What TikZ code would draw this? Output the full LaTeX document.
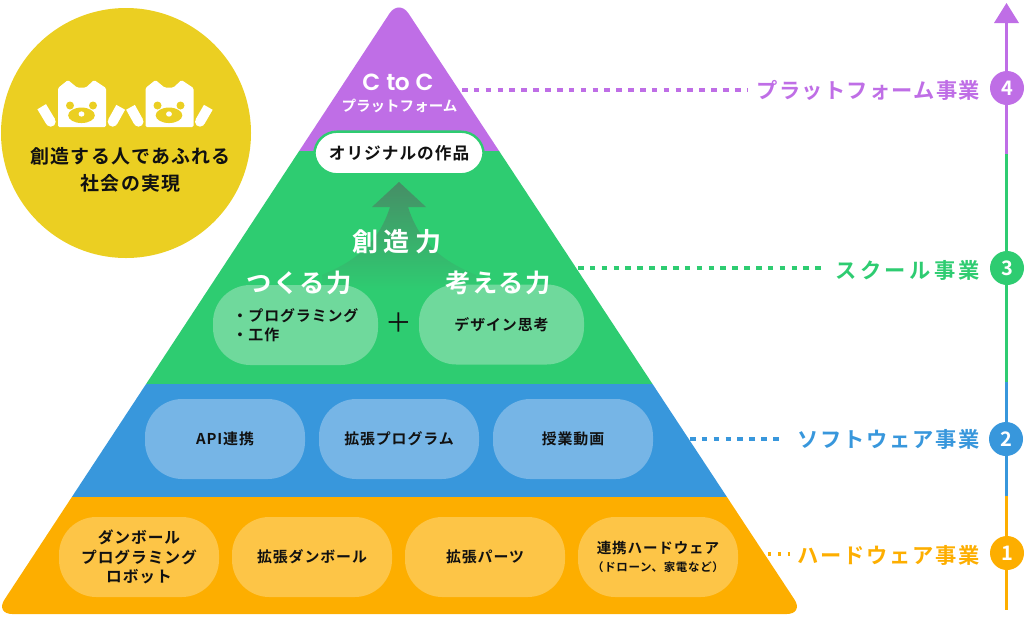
\documentclass[tikz,border=0pt]{standalone}
\usepackage{fontspec}
\usetikzlibrary{shadings}
\setmainfont{Noto Sans CJK JP}
\newfontfamily\jpb[LetterSpace=6]{Noto Sans CJK JP Bold}
\newfontfamily\jpm{Noto Sans CJK JP}
\newfontfamily\latn{Poppins SemiBold}
\definecolor{cpur}{HTML}{BF6EE6}
\definecolor{cgrn}{HTML}{2ECC71}
\definecolor{cblu}{HTML}{3897DC}
\definecolor{corg}{HTML}{FDAE00}
\definecolor{cyel}{HTML}{EBCF22}
\definecolor{cgrnp}{HTML}{6FD99C}
\definecolor{cblup}{HTML}{76B5E6}
\definecolor{corgp}{HTML}{FDC547}
\definecolor{carrow}{HTML}{468E66}
\definecolor{ink}{HTML}{111111}
\tikzset{
  pill/.style={rectangle,rounded corners=28pt,inner sep=0pt,minimum height=60pt,text=ink,align=center,
    font=\jpb\fontsize{11.2}{14.4}\selectfont},
  gpill/.style={pill,fill=cgrnp,minimum width=123.75pt},
  bpill/.style={pill,fill=cblup,minimum width=120pt},
  opill/.style={pill,fill=corgp,minimum width=120pt},
  biz/.style={anchor=east,inner sep=0pt,font=\jpb\fontsize{15.95}{18}\selectfont},
  num/.style={circle,minimum size=25.5pt,inner sep=0pt,text=white,font=\jpb\fontsize{15}{16}\selectfont},
  dashline/.style={line width=2.3pt,dash pattern=on 4.2pt off 4.7pt},
  axisline/.style={line width=2.2pt},
  power/.style={text=white,inner sep=0pt,font=\jpb\fontsize{19}{22}\selectfont},
  armline/.style={white,line width=7.5pt}
}
\begin{document}
\begin{tikzpicture}[x=0.75pt,y=-0.75pt]
\useasboundingbox (0,0) rectangle (1031,622);
% pyramid
\begin{scope}
\clip[rounded corners=13pt] (399,-1) -- (804,614) -- (-5,614) -- cycle;
\fill[cpur] (-10,-5) rectangle (810,151);
\fill[cgrn] (-10,151) rectangle (810,383.5);
\fill[cblu] (-10,383.5) rectangle (810,497);
\fill[corg] (-10,497) rectangle (810,620);
\end{scope}
% rising arrow
\shade[top color=carrow,bottom color=cgrn,shading angle=0]
 (399,182) -- (426,207) -- (408,207) .. controls (420,245) and (445,262) .. (476,275)
 -- (476,290) -- (322,290) -- (322,275) .. controls (353,262) and (378,245) .. (390,207) -- (372,207) -- cycle;
% top box
\node[rectangle,rounded corners=17pt,draw=cgrn,line width=1.8pt,fill=white,minimum width=127pt,minimum height=32pt,inner sep=0pt,text=ink,
  font=\jpb\fontsize{12.5}{14}\selectfont] (works) at (399,153) {\raisebox{-1.5pt}{オリジナルの作品}};
\node[text=white,inner sep=0pt,font=\latn\fontsize{17.5}{22}\selectfont] (ctoc) at (398,82) {C\hspace{4.5pt}\addfontfeature{LetterSpace=-3}to\hspace{4.5pt}C};
\node[text=white,inner sep=0pt,font=\jpb\fontsize{10.9}{14}\selectfont] (cplat) at (399.5,106) {\addfontfeature{LetterSpace=0}プラットフォーム};
% green pills
\node[gpill,align=left] (p1) at (295.5,325) {・プログラミング\\・工作};
\node[gpill] (p2) at (501.5,324.5) {デザイン思考};
\node[text=ink,inner sep=0pt,font=\jpm\fontsize{20}{22}\selectfont] (plus) at (399,323) {＋};
\node[power,font=\jpb\fontsize{19.5}{22}\selectfont] (souzou) at (397,242) {\addfontfeature{LetterSpace=20}創造力};
\node[power] (tsukuru) at (299,283) {つくる力};
\node[power] (kangaeru) at (498.5,283) {考える力};
% blue pills
\node[bpill] (b1) at (225,439) {API連携};
\node[bpill] (b2) at (399,439) {拡張プログラム};
\node[bpill] (b3) at (573,439) {授業動画};
% orange pills
\node[opill,font=\jpb\fontsize{11.8}{14.4}\selectfont] (o1) at (139,557) {ダンボール\\プログラミング\\ロボット};
\node[opill] (o2) at (312,557) {拡張ダンボール};
\node[opill] (o3) at (485,557) {拡張パーツ};
\node[opill] (o4) at (658,557) {\raisebox{-1.5pt}{\fontsize{10.9}{14}\selectfont 連携ハードウェア}\\[-1pt]\raisebox{-1.5pt}{\fontsize{8.6}{11}\selectfont （ドローン、家電など）}};
% vision circle
\node[circle,fill=cyel,minimum size=187.5pt,inner sep=0pt] (vision) at (126,133) {};
\foreach \dx in {0,87.5}{
  \begin{scope}[xshift=\dx*0.75pt]
  \fill[white,rounded corners=1pt] (58,88) -- (68,80) -- (77,87.5) -- (86,87.5) -- (94,80) -- (106,88) -- (106,127) -- (58,127) -- cycle;
  \fill[cyel] (70,105.5) circle[radius=3pt];
  \fill[cyel] (93,105.5) circle[radius=3pt];
  \fill[cyel] (81.5,115.3) ellipse[x radius=10pt,y radius=5.8pt];
  \fill[white] (81.5,114) ellipse[x radius=2.2pt,y radius=2pt];
  \end{scope}
}
\draw[armline] (41.7,106.7) -- (50.7,121.7);
\fill[white] (50.7,121.7) circle[radius=3.75pt];
\draw[armline] (120.7,107.3) -- (112.7,121.7);
\fill[white] (112.7,121.7) circle[radius=3.75pt];
\draw[armline] (130.5,107.3) -- (138.5,121.7);
\fill[white] (138.5,121.7) circle[radius=3.75pt];
\draw[armline] (208.3,107.3) -- (200,121.7);
\fill[white] (200,121.7) circle[radius=3.75pt];
\node[text=ink,inner sep=0pt,align=center,font=\jpb\fontsize{14.2}{20.2}\selectfont] (visiontext) at (130.5,170) {創造する人であふれる\\社会の実現};
% axis
\coordinate (top) at (1006.5,20);
\coordinate (a43) at (1006.5,154);
\coordinate (a32) at (1006.5,382);
\coordinate (a21) at (1006.5,496);
\coordinate (bot) at (1006.5,610);
\draw[axisline,cpur] (top) -- (a43);
\draw[axisline,cgrn] (a43) -- (a32);
\draw[axisline,cblu] (a32) -- (a21);
\draw[axisline,corg] (a21) -- (bot);
\fill[cpur] (1006.5,3) -- (1019,23) -- (994,23) -- cycle;
\node[num,fill=cpur] (n4) at (1007,88) {4};
\node[num,fill=cgrn] (n3) at (1007,268) {3};
\node[num,fill=cblu] (n2) at (1006,439) {2};
\node[num,fill=corg] (n1) at (1007,553) {1};
% labels
\node[biz,text=cpur] (l4) at (980.5,90) {プラットフォーム事業};
\node[biz,text=cgrn] (l3) at (980.5,270) {\addfontfeature{LetterSpace=16}スクール事業};
\node[biz,text=cblu] (l2) at (980.5,439) {\addfontfeature{LetterSpace=8.5}ソフトウェア事業};
\node[biz,text=corg] (l1) at (980.5,555) {\addfontfeature{LetterSpace=8.5}ハードウェア事業};
% dashes
\coordinate (d4a) at (462,90);\coordinate (d4b) at (747,90);
\coordinate (d3a) at (578,268);\coordinate (d3b) at (821,268);
\coordinate (d2a) at (690,439);\coordinate (d2b) at (783,439);
\coordinate (d1a) at (768,554);\coordinate (d1b) at (790,554);
\draw[dashline,cpur] (d4a) -- (d4b);
\draw[dashline,cgrn] (d3a) -- (d3b);
\draw[dashline,cblu] (d2a) -- (d2b);
\draw[corg,line width=2.3pt,dash pattern=on 2.4pt off 5pt] (d1a) -- (d1b);
\end{tikzpicture}
\end{document}
